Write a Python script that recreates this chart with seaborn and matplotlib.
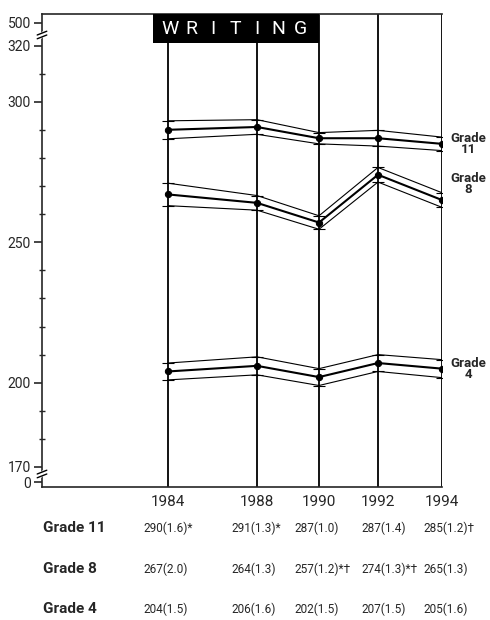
import numpy as np
import pandas as pd
import seaborn as sns
import matplotlib.pyplot as plt
from matplotlib.patches import Rectangle

# NAEP writing trend data
years = [1984, 1988, 1990, 1992, 1994]
grade11 = [290, 291, 287, 287, 285]
grade11_se = [1.6, 1.3, 1.0, 1.4, 1.2]
grade11_flags = ['*', '*', '', '', '†']
grade8 = [267, 264, 257, 274, 265]
grade8_se = [2.0, 1.3, 1.2, 1.3, 1.3]
grade8_flags = ['', '', '*†', '*†', '']
grade4 = [204, 206, 202, 207, 205]
grade4_se = [1.5, 1.6, 1.5, 1.5, 1.6]
grade4_flags = ['', '', '', '', '']
grades = ['Grade 11', 'Grade 8', 'Grade 4']
ytick_vals = [0, 170, 200, 250, 300, 320, 500]
title = 'WRITING'

sns.set_style('ticks')
plt.rcParams['font.family'] = ['Roboto', 'DejaVu Sans']
plt.rcParams['axes.linewidth'] = 1.2

# long table for seaborn
rows = []
for g, vals, ses in zip(grades, [grade11, grade8, grade4], [grade11_se, grade8_se, grade4_se]):
    for yr, v, s in zip(years, vals, ses):
        rows.append({'grade': g, 'year': yr, 'score': v, 'lo': v - 2 * s, 'hi': v + 2 * s})
df = pd.DataFrame(rows)

# uneven spacing of the year columns, and the broken y axis
x_yr = [1960, 1970, 1984, 1988, 1990, 1992, 1994, 2004]
x_px = [-90, 0, 126, 215, 277, 336, 400, 490]
y_val = [-50, 0, 170, 320, 500, 590]
y_px = [0, 5, 20, 441.5, 464, 473]

fig = plt.figure(figsize=(4.9, 6.2), dpi=100)
ax = fig.add_axes([42 / 490, 133 / 620, 400 / 490, 473 / 620])
ax.set_xscale('function', functions=(lambda v: np.interp(v, x_yr, x_px),
                                     lambda p: np.interp(p, x_px, x_yr)))
ax.set_yscale('function', functions=(lambda v: np.interp(v, y_val, y_px),
                                     lambda p: np.interp(p, y_px, y_val)))

pal = {g: 'black' for g in grades}
for col in ['lo', 'hi']:
    sns.lineplot(data=df, x='year', y=col, hue='grade', palette=pal, lw=0.8,
                 legend=False, ax=ax)
sns.lineplot(data=df, x='year', y='score', hue='grade', palette=pal, lw=1.5,
             marker='o', markersize=4.5, markeredgecolor='black', legend=False, ax=ax)
for g in grades:
    d = df[df.grade == g]
    ax.errorbar(d.year, d.score, yerr=[d.score - d.lo, d.hi - d.score], fmt='none',
                ecolor='black', elinewidth=0, capsize=4, capthick=0.8)

for yr in years:
    ax.axvline(yr, color='black', lw=1.3, zorder=1)

ax.set_xlim(1970, 1994)
ax.set_ylim(-50, 590)
ax.set_xlabel('')
ax.set_ylabel('')
ax.set_xticks(years)
ax.set_xticklabels([str(y) for y in years], fontsize=11)
ax.tick_params(axis='x', length=0, pad=6)
ax.set_yticks(ytick_vals)
ax.set_yticklabels([str(v) for v in ytick_vals], fontsize=10)
ax.set_yticks([v for v in range(180, 320, 10) if v not in ytick_vals], minor=True)
ax.tick_params(axis='y', which='major', direction='out', length=6, width=1.2, pad=2)
ax.tick_params(axis='y', which='minor', direction='inout', length=5, width=1.0)
ax.spines['right'].set_visible(False)

# axis break marks
for yb in [13 / 473, 452 / 473]:
    ax.plot([-0.004, 0.004], [yb - 0.004, yb + 0.004], transform=ax.transAxes,
            color='white', lw=3, clip_on=False, zorder=5)
    for dy in [-0.004, 0.004]:
        ax.plot([-0.012, 0.012], [yb + dy - 0.004, yb + dy + 0.004], transform=ax.transAxes,
                color='black', lw=1.0, clip_on=False, zorder=6)

# title box, letters spread out
ax.add_patch(Rectangle((111 / 400, 1 - 29 / 473), 166 / 400, 29 / 473, transform=ax.transAxes,
                       facecolor='black', edgecolor='none', clip_on=False, zorder=4))
for ch, xc in zip(title, np.linspace(128, 258, len(title))):
    ax.text(xc / 400, 1 - 14.5 / 473, ch, transform=ax.transAxes, color='white',
            fontsize=14, ha='center', va='center', zorder=5)

# grade labels on the right
label_dy = [0, 16, 0]
for g, vals, dy in zip(grades, [grade11, grade8, grade4], label_dy):
    ax.annotate(g.replace(' ', '\n'), xy=(years[-1], vals[-1]), xytext=(26, dy),
                textcoords='offset pixels', ha='center', va='center', fontsize=9.5,
                fontweight='bold', linespacing=0.8, annotation_clip=False)

# table of means and standard errors under the chart
col_dx = [-25, -26, -25, -17, -19]
row_dy = [-41, -82, -122]
for g, vals, ses, flags, dy in zip(grades, [grade11, grade8, grade4],
                                   [grade11_se, grade8_se, grade4_se],
                                   [grade11_flags, grade8_flags, grade4_flags], row_dy):
    fig.text(43 / 490, (133 + dy) / 620, g, fontsize=11, fontweight='bold', va='center')
    for yr, v, s, f, dx in zip(years, vals, ses, flags, col_dx):
        ax.annotate(f'{v}({s:.1f}){f}', xy=(yr, 0), xycoords=ax.get_xaxis_transform(),
                    xytext=(dx, dy), textcoords='offset pixels', ha='left', va='center',
                    fontsize=8.5, annotation_clip=False)

fig.savefig('out.png', dpi=100)
